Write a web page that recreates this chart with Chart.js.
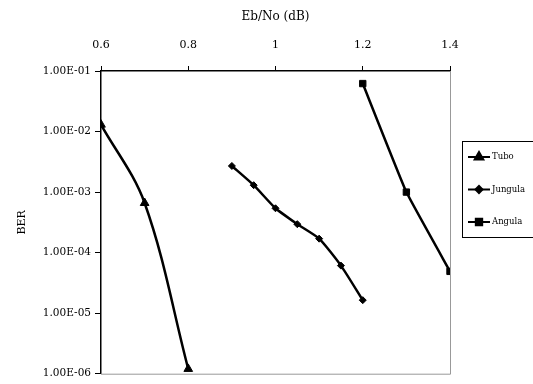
<!DOCTYPE html>
<html>
<head>
<meta charset="utf-8">
<script src="https://cdn.jsdelivr.net/npm/chart.js@4.4.1/dist/chart.umd.min.js"></script>
<style>
  body { margin: 0; background: #fff; }
  #wrap { width: 533px; height: 384px; }
</style>
</head>
<body>
<div id="wrap"><canvas id="berChart"></canvas></div>
<script>
// valeurs
const seriesNames = ['Tubo', 'Jungula', 'Angula'];
const tuboX = [0.6, 0.7, 0.8];
const tuboBer = [1.3e-2, 6.6e-4, 1.2e-6];
const jungulaX = [0.9, 0.95, 1.0, 1.05, 1.1, 1.15, 1.2];
const jungulaBer = [2.7e-3, 1.3e-3, 5.4e-4, 2.95e-4, 1.7e-4, 6.1e-5, 1.64e-5];
const angulaX = [1.2, 1.3, 1.4];
const angulaBer = [6.2e-2, 1.0e-3, 4.9e-5];
const xTicks = [0.6, 0.8, 1.0, 1.2, 1.4];
const yTicks = [1e-6, 1e-5, 1e-4, 1e-3, 1e-2, 1e-1];

const serif = '"DejaVu Serif", "Liberation Serif", serif';
const markers = ['triangle', 'rectRot', 'rect'];
const radii = [5, 3.5, 4.5];

function toPoints(xs, ys) {
    return xs.map((x, i) => ({ x: x, y: ys[i] }));
}

// format Excel : 1.00E-01
function sciLabel(v) {
    const exp = Math.round(Math.log10(v));
    const sign = exp < 0 ? '-' : '+';
    const abs = Math.abs(exp);
    return '1.00E' + sign + (abs < 10 ? '0' + abs : abs);
}

// bordures grises et légende encadrée
const framePlugin = {
    id: 'frame',
    afterDraw(chart) {
        const ctx = chart.ctx;
        const a = chart.chartArea;
        ctx.save();
        ctx.strokeStyle = '#999';
        ctx.lineWidth = 1;
        ctx.beginPath();
        ctx.moveTo(a.right + 0.5, a.top);
        ctx.lineTo(a.right + 0.5, a.bottom + 0.5);
        ctx.lineTo(a.left, a.bottom + 0.5);
        ctx.stroke();

        // légende
        const lx = 462, ly = 141;
        ctx.strokeStyle = '#000';
        ctx.strokeRect(lx + 0.5, ly + 0.5, 90, 96);
        ctx.font = '8.5px ' + serif;
        ctx.textBaseline = 'middle';
        ctx.fillStyle = '#000';
        seriesNames.forEach((name, i) => {
            const y = ly + 16 + i * 32.5;
            ctx.lineWidth = 2;
            ctx.beginPath();
            ctx.moveTo(lx + 6, y);
            ctx.lineTo(lx + 28, y);
            ctx.stroke();
            Chart.helpers.drawPoint(ctx, {
                pointStyle: markers[i], radius: radii[i], rotation: 0, borderWidth: 1
            }, lx + 17, y);
            ctx.fill();
            ctx.fillText(name, lx + 30, y);
        });
        ctx.restore();
    }
};

const datasets = [
    { label: seriesNames[0], data: toPoints(tuboX, tuboBer), tension: 0.35 },
    { label: seriesNames[1], data: toPoints(jungulaX, jungulaBer), tension: 0.2 },
    { label: seriesNames[2], data: toPoints(angulaX, angulaBer), tension: 0.1 }
].map((d, i) => Object.assign(d, {
    borderColor: '#000',
    backgroundColor: '#000',
    borderWidth: 2.5,
    pointStyle: markers[i],
    pointRadius: radii[i],
    pointBorderWidth: 1,
    fill: false
}));

let ctx = document.getElementById('berChart').getContext('2d');
let berChart = new Chart(ctx, {
    type: 'line',
    data: { datasets: datasets },
    options: {
        responsive: true,
        maintainAspectRatio: false,
        animation: false,
        layout: { padding: { left: 0, top: 0, right: 83, bottom: 7 } },
        plugins: {
            legend: { display: false },
            tooltip: { enabled: false }
        },
        scales: {
            x: {
                type: 'linear',
                position: 'top',
                min: 0.6,
                max: 1.4,
                afterBuildTicks: s => { s.ticks = xTicks.map(v => ({ value: v })); },
                afterFit: s => { s.height = 71; },
                ticks: {
                    color: '#000',
                    font: { family: serif, size: 11 },
                    padding: 14,
                    maxRotation: 0,
                    callback: v => String(v)
                },
                grid: { drawOnChartArea: false, drawTicks: true, tickLength: 5, color: '#000' },
                border: { display: true, color: '#000', width: 1.5 },
                title: {
                    display: true,
                    text: 'Eb/No (dB)',
                    color: '#000',
                    font: { family: serif, size: 12 },
                    padding: { top: 10, bottom: 0 }
                }
            },
            y: {
                type: 'logarithmic',
                min: 1e-6,
                max: 1e-1,
                afterBuildTicks: s => { s.ticks = yTicks.map(v => ({ value: v })); },
                afterFit: s => { s.width = 101; },
                ticks: {
                    color: '#000',
                    font: { family: serif, size: 10.5 },
                    padding: 4,
                    callback: v => sciLabel(v)
                },
                grid: { drawOnChartArea: false, drawTicks: true, tickLength: 6, color: '#000' },
                border: { display: true, color: '#000', width: 1.5 },
                title: {
                    display: true,
                    text: 'BER',
                    color: '#000',
                    font: { family: serif, size: 11 },
                    padding: { top: 16, bottom: 0 }
                }
            }
        }
    },
    plugins: [framePlugin]
});
</script>
</body>
</html>
